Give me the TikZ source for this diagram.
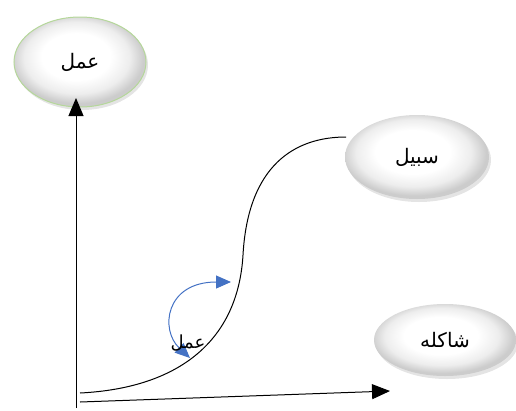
\documentclass[tikz,border=0pt]{standalone}
\usepackage{fontspec}
\newfontfamily\arabicfont[Script=Arabic]{DejaVu Sans}
\TeXXeTstate=1
\usetikzlibrary{shapes.geometric,arrows.meta,shadows}
\pgfdeclareradialshading{bubshade}{\pgfpoint{-2bp}{4bp}}{color(0bp)=(white); color(13bp)=(white); color(20bp)=(black!7); color(25bp)=(black!20); color(50bp)=(black!20)}
\tikzset{
  bubble/.style={ellipse, inner sep=0pt, shading=bubshade,
    drop shadow={shadow xshift=2pt, shadow yshift=-3pt, fill=black!30, opacity=0.35},
    font=\arabicfont\fontsize{20}{24}\selectfont},
  axis/.style={draw=black, line width=1pt, -{Triangle[length=18pt,width=15pt]}},
}
\definecolor{wordblue}{HTML}{4472C4}
\definecolor{lightgreen}{HTML}{B5D79A}
\begin{document}
\begin{tikzpicture}[x=1pt,y=-1pt]
\useasboundingbox (0,0) rectangle (516,410);
\node[bubble, draw=lightgreen, line width=1pt, minimum width=132pt, minimum height=90pt] (amal) at (80,62) {\beginR عمل\endR};
\node[bubble, minimum width=144pt, minimum height=84pt] (sabil) at (417,157) {\beginR سبيل\endR};
\node[bubble, minimum width=142pt, minimum height=72pt] (shakla) at (445,340) {\beginR شاكله\endR};
\coordinate (o) at (76,408);
\coordinate (ytip) at (76,98);
\coordinate (x0) at (80,402);
\coordinate (xtip) at (390,391);
\draw[axis] (o) -- (ytip);
\draw[axis] (x0) -- (xtip);
\coordinate (c0) at (80,393);
\coordinate (cm) at (243,255);
\coordinate (c1) at (346,137);
\draw[black, line width=1pt] (c0) .. controls (180,388) and (238,340) .. (cm) .. controls (248,165) and (295,137) .. (c1);
\coordinate (b0) at (231,282);
\coordinate (b1) at (190,358);
\draw[draw=wordblue, line width=1pt, {Triangle[length=15pt,width=13pt]}-{Triangle[length=15pt,width=13pt]}] (b1) .. controls (160,330) and (165,282) .. (b0);
\node[font=\arabicfont\fontsize{18}{22}\selectfont, inner sep=0pt] (lbl) at (188,343) {\beginR عمل\endR};
\end{tikzpicture}
\end{document}
